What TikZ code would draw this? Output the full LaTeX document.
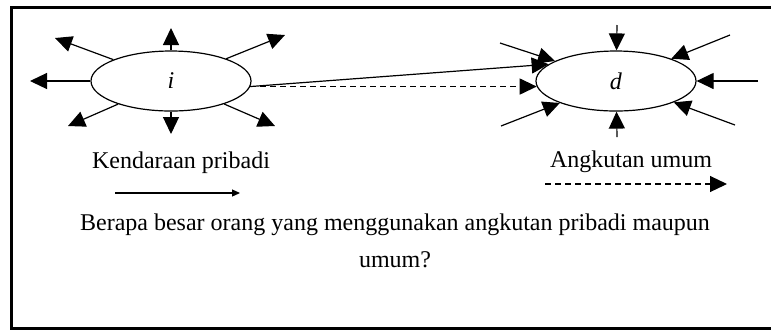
\documentclass[tikz,border=0pt]{standalone}
\usepackage{fontspec}
\setmainfont{Liberation Serif}
\usetikzlibrary{arrows.meta, positioning, shapes.geometric}

\begin{document}
\begin{tikzpicture}[
  x=0.5bp, y=-0.5bp,
  zone/.style={draw, ellipse, line width=0.6bp, minimum width=80bp, minimum height=30bp, inner sep=0pt},
  ray/.style={line width=0.6bp, -{Triangle[length=8.5bp, width=8bp]}},
  dash3/.style={dash pattern=on 3bp off 2bp},
  frame/.style={line width=1.5bp},
  every node/.style={font=\fontsize{12bp}{18bp}\selectfont}
]
  \useasboundingbox (0,0) rectangle (771,329);
  \clip (0,0) rectangle (771,329);

  % outer frame (right side runs off the page)
  \draw[frame] (790,7) -- (11,7) -- (11,328) -- (790,328);

  % origin and destination zones
  \node[zone] (i) at (171,81) {\raisebox{-2bp}{\textit{i}}};
  \node[zone] (d) at (616,81) {\raisebox{-2bp}{\textit{d}}};

  % trips leaving the origin
  \foreach \n/\x/\y in {oL/30/81, oU/171/28, oD/171/134, oUL/55/38, oUR/285/35, oDL/68/126, oDR/275/126} {
    \coordinate (\n) at (\x,\y);
    \draw[ray] (i) -- (\n);
  }

  % trips arriving at the destination
  \foreach \n/\x/\y in {iU/617/25, iD/617/137, iR/758/81, iUL/500/43, iUR/730/35, iDL/501/126, iDR/735/125} {
    \coordinate (\n) at (\x,\y);
    \draw[ray] (\n) -- (d);
  }

  % i to d by both modes
  \draw[ray] (i.-4) -- (d.166);
  \draw[ray, dash3] (i.-4) -- (d.184);

  % legend
  \node[anchor=base] (car) at (181,168) {Kendaraan pribadi};
  \node[anchor=base] (bus) at (631,167) {Angkutan umum};
  \coordinate (carA) at (115,193);
  \coordinate (carB) at (240,193);
  \draw[line width=0.6bp, -{Triangle[length=4bp, width=3.5bp]}] (carA) -- (carB);
  \coordinate (busA) at (545,184);
  \coordinate (busB) at (727,184);
  \draw[ray, dash3] (busA) -- (busB);

  % question
  \node[anchor=base] (q1) at (395,230) {Berapa besar orang yang menggunakan angkutan pribadi maupun};
  \node[anchor=base] (q2) at (395,267) {umum?};
\end{tikzpicture}
\end{document}
